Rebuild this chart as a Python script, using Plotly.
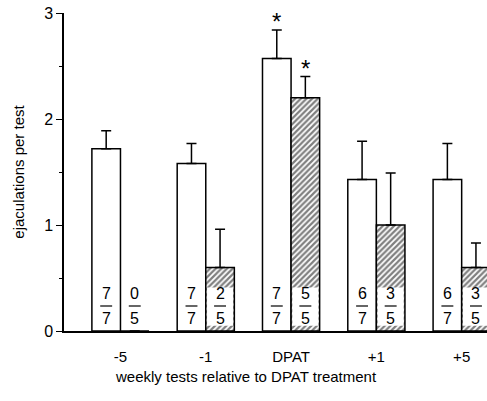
import plotly.graph_objects as go

# Weekly tests relative to DPAT treatment
tests = ["-5", "-1", "DPAT", "+1", "+5"]

# Mean ejaculations per test and SEM for each group
white_mean = [1.72, 1.58, 2.57, 1.43, 1.43]
white_sem = [0.17, 0.19, 0.27, 0.36, 0.34]
hatch_mean = [0.0, 0.6, 2.2, 1.0, 0.6]
hatch_sem = [0.0, 0.36, 0.20, 0.49, 0.23]

# Number of animals ejaculating / group size
white_num = [7, 7, 7, 6, 6]
white_den = [7, 7, 7, 7, 7]
hatch_num = [0, 2, 5, 3, 3]
hatch_den = [5, 5, 5, 5, 5]

# Significance markers
white_sig = [False, False, True, False, False]
hatch_sig = [False, False, True, False, False]

FONT = "Liberation Sans, Arial, Helvetica, sans-serif"
BARGAP = 0.33
BAR_W = (1 - BARGAP) / 2

xs = list(range(len(tests)))

fig = go.Figure()
fig.add_trace(go.Bar(
    x=xs, y=white_mean,
    marker=dict(color="white", line=dict(color="black", width=1.5)),
    error_y=dict(type="data", array=white_sem, arrayminus=[0] * 5, symmetric=False,
                 color="black", thickness=1.5, width=5),
    showlegend=False,
))
fig.add_trace(go.Bar(
    x=xs, y=hatch_mean,
    marker=dict(color="white", line=dict(color="black", width=1.5),
                pattern=dict(shape="/", fgcolor="black", bgcolor="white",
                             size=4, solidity=0.55)),
    error_y=dict(type="data", array=hatch_sem, arrayminus=[0] * 5, symmetric=False,
                 color="black", thickness=1.5, width=5),
    showlegend=False,
))

shapes = []
annotations = []
PX_PER_UNIT = 106.0

def add_fraction(cx, num, den, boxed):
    if boxed:
        shapes.append(dict(type="rect", xref="x", yref="y", layer="above",
                           x0=cx - BAR_W / 2 + 0.015, x1=cx + BAR_W / 2 - 0.015,
                           y0=0.05, y1=0.41, fillcolor="white",
                           line=dict(width=0)))
    # fraction line
    shapes.append(dict(type="line", xref="x", yref="y", layer="above",
                       x0=cx - 0.07, x1=cx + 0.07, y0=25 / PX_PER_UNIT, y1=25 / PX_PER_UNIT,
                       line=dict(color="black", width=1.2)))
    annotations.append(dict(x=cx, y=0, xref="x", yref="y", text=str(num),
                            showarrow=False, yanchor="middle", yshift=38,
                            font=dict(family=FONT, size=16, color="black")))
    annotations.append(dict(x=cx, y=0, xref="x", yref="y", text=str(den),
                            showarrow=False, yanchor="middle", yshift=13,
                            font=dict(family=FONT, size=16, color="black")))

for i in xs:
    cw = i - BAR_W / 2
    ch = i + BAR_W / 2
    add_fraction(cw, white_num[i], white_den[i], False)
    add_fraction(ch, hatch_num[i], hatch_den[i], hatch_mean[i] > 0)
    if white_sig[i]:
        annotations.append(dict(x=cw, y=white_mean[i] + white_sem[i], xref="x", yref="y",
                                text="*", showarrow=False, yanchor="bottom", yshift=-7,
                                font=dict(family=FONT, size=24, color="black")))
    if hatch_sig[i]:
        annotations.append(dict(x=ch, y=hatch_mean[i] + hatch_sem[i], xref="x", yref="y",
                                text="*", showarrow=False, yanchor="bottom", yshift=-7,
                                font=dict(family=FONT, size=24, color="black")))

annotations.append(dict(x=0.43, y=-0.11, xref="paper", yref="paper", yanchor="top",
                        text="weekly tests relative to DPAT treatment", showarrow=False,
                        font=dict(family=FONT, size=15, color="black")))

fig.update_layout(
    width=487, height=401,
    margin=dict(l=64, r=0, t=13, b=70),
    plot_bgcolor="white", paper_bgcolor="white",
    barmode="group", bargap=BARGAP, bargroupgap=0,
    shapes=shapes, annotations=annotations,
    font=dict(family=FONT, color="black"),
    xaxis=dict(range=[-0.662, 4.297], tickvals=xs, ticktext=tests,
               showline=True, linecolor="black", linewidth=1.5,
               ticks="", ticklabelstandoff=11, showgrid=False, zeroline=False,
               tickfont=dict(family=FONT, size=15, color="black")),
    yaxis=dict(range=[0, 3], tickvals=[0, 1, 2, 3],
               showline=True, linecolor="black", linewidth=1.5,
               ticks="outside", ticklen=6, tickwidth=1.2, tickcolor="black",
               minor=dict(dtick=0.5, ticks="outside", ticklen=3, tickcolor="black", tickwidth=1),
               showgrid=False, zeroline=False,
               tickfont=dict(family=FONT, size=16, color="black"),
               title=dict(text="ejaculations per test", standoff=16,
                          font=dict(family=FONT, size=15, color="black"))),
)

fig.write_html("out.html")
